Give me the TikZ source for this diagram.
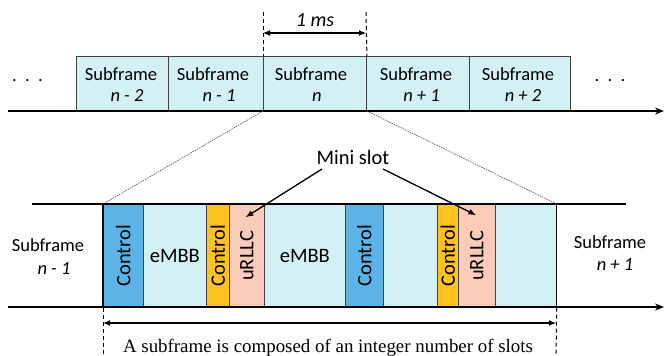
\documentclass[tikz,border=0pt]{standalone}
\usepackage{fontspec}
\setmainfont{Carlito}
\newfontfamily\serifrm{Liberation Serif}
\usetikzlibrary{arrows.meta,calc}
\definecolor{cyanbg}{HTML}{D3F1F4}
\definecolor{ctrlblue}{HTML}{5BB3E8}
\definecolor{ctrlorange}{HTML}{FFC21F}
\definecolor{urllc}{HTML}{F9CBB8}
\definecolor{edge}{HTML}{404040}
\begin{document}
\begin{tikzpicture}[x=1pt,y=-1pt,
  topbox/.style={draw=edge, line width=0.9pt, fill=cyanbg, minimum height=54pt, inner sep=0pt, anchor=south west},
  blk/.style={draw=edge, line width=0.7pt, minimum height=103pt, inner sep=0pt, anchor=north west, font=\fontsize{20.5}{24}\selectfont},
  lbl/.style={font=\fontsize{18.5}{22}\selectfont, anchor=base, inner sep=0pt},
  ilbl/.style={font=\fontsize{18.5}{22}\selectfont\itshape, anchor=base, inner sep=0pt},
  axisline/.style={line width=1.6pt, -{Stealth[length=9pt,width=7pt]}},
  edgeline/.style={line width=1.5pt},
  vdash/.style={line width=1pt, dash pattern=on 4pt off 3pt},
  zoomline/.style={line width=0.6pt, draw=black!70, dash pattern=on 1.5pt off 1pt},
  dimarrow/.style={line width=1.2pt, {Latex[length=7pt,width=6pt]}-{Latex[length=7pt,width=6pt]}},
  callout/.style={line width=1.3pt, -{Latex[length=8pt,width=6pt]}}
]
\useasboundingbox (0,0) rectangle (664,356);

% ---------- top row ----------
\coordinate (ta0) at (8,111);
\coordinate (ta1) at (664,111);
\node[topbox, minimum width=92pt]  (s1) at (76,111) {};
\node[topbox, minimum width=95pt]  (s2) at (168,111) {};
\node[topbox, minimum width=103pt] (s3) at (263,111) {};
\node[topbox, minimum width=103pt] (s4) at (366,111) {};
\node[topbox, minimum width=101pt] (s5) at (469,111) {};
\draw[axisline] (ta0) -- (ta1);

\node[lbl]  (t1a) at (121,80) {Subframe};
\node[ilbl] (t1b) at (127,101.5) {n - 2};
\node[lbl]  (t2a) at (213,80) {Subframe};
\node[ilbl] (t2b) at (219,101.5) {n - 1};
\node[lbl]  (t3a) at (311,80) {Subframe};
\node[ilbl] (t3b) at (317,101.5) {n};
\node[lbl]  (t4a) at (416,80) {Subframe};
\node[ilbl] (t4b) at (421.5,101.5) {n + 1};
\node[lbl]  (t5a) at (518,80) {Subframe};
\node[ilbl] (t5b) at (523,101.5) {n + 2};

\node[lbl] (dl) at (27.5,81) {.\ \ .\ \ .};
\node[lbl] (dr) at (610,81) {.\ \ .\ \ .};

% 1 ms
\coordinate (d1) at (263,12);
\coordinate (d2) at (366,12);
\draw[vdash] (d1) -- (s3.north west);
\draw[vdash] (d2) -- (s3.north east);
\coordinate (m1) at (263,33);
\coordinate (m2) at (366,33);
\draw[dimarrow] (m1) -- (m2);
\node[font=\fontsize{20}{24}\selectfont\itshape, inner sep=0pt] (ms) at (315,20) {1 ms};

% ---------- bottom row ----------
\node[blk, fill=ctrlblue,   minimum width=40pt] (b1)  at (103,204) {\rotatebox{90}{Control}};
\node[blk, fill=cyanbg,     minimum width=63pt] (b2)  at (143,204) {eMBB};
\node[blk, fill=ctrlorange, minimum width=23pt] (b3)  at (206,204) {\rotatebox{90}{Control}};
\node[blk, fill=urllc,      minimum width=35pt] (u1)  at (229,204) {\rotatebox{90}{uRLLC}};
\node[blk, fill=cyanbg,     minimum width=81pt] (b5)  at (264,204) {eMBB};
\node[blk, fill=ctrlblue,   minimum width=38pt] (b6)  at (345,204) {\rotatebox{90}{Control}};
\node[blk, fill=cyanbg,     minimum width=54pt] (b7)  at (383,204) {};
\node[blk, fill=ctrlorange, minimum width=21pt] (b8)  at (437,204) {\rotatebox{90}{Control}};
\node[blk, fill=urllc,      minimum width=37pt] (u2)  at (458,204) {\rotatebox{90}{uRLLC}};
\node[blk, fill=cyanbg,     minimum width=61pt] (b10) at (495,204) {};

\coordinate (tl0) at (32,204);
\coordinate (tl1) at (626,204);
\draw[edgeline] (tl0) -- (tl1);
\draw[edgeline] (b1.north west) -- (b1.south west);
\draw[edgeline] (b10.north east) -- (b10.south east);
\coordinate (ba0) at (8,307);
\coordinate (ba1) at (664,307);
\draw[axisline] (ba0) -- (ba1);

% zoom lines
\draw[zoomline] (s3.south west) -- (b1.north west);
\draw[zoomline] (s3.south east) -- (b10.north east);

\node[lbl]  (la) at (48,251.5) {Subframe};
\node[ilbl] (lb) at (54,274) {n - 1};
\node[lbl]  (ra) at (610,248.5) {Subframe};
\node[ilbl] (rb) at (615,270.5) {n + 1};

% mini slot
\node[font=\fontsize{20.5}{24}\selectfont, inner sep=0pt] (mini) at (353,157) {Mini slot};
\draw[callout] ($(mini)+(-31,12)$) -- ($(u1)+(-1.5,-38.5)$);
\draw[callout] ($(mini)+(30,12)$) -- ($(u2)+(-0.5,-40.5)$);

% bottom dimension
\coordinate (e1) at (103,356);
\coordinate (e2) at (556,356);
\draw[vdash] (b1.south west) -- (e1);
\draw[vdash] (b10.south east) -- (e2);
\coordinate (f1) at (103,323);
\coordinate (f2) at (556,323);
\draw[dimarrow] (f1) -- (f2);
\node[font=\fontsize{18.9}{22}\serifrm, anchor=base, inner sep=0pt] (cap) at (328,352.5) {A subframe is composed of an integer number of slots};
\end{tikzpicture}
\end{document}
